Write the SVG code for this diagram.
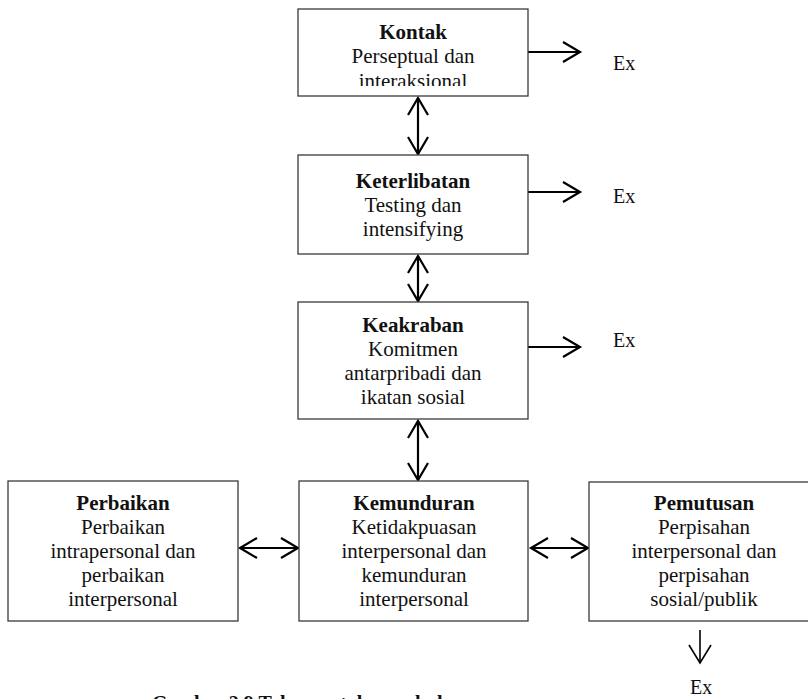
<svg xmlns="http://www.w3.org/2000/svg" width="808" height="699" viewBox="0 0 808 699">
  <style>
    .box { fill: #fff; stroke: #3a3a3a; stroke-width: 1.3; }
    .t { font-family: "Liberation Serif", "Times New Roman", Times, serif; font-size: 21px; fill: #111; text-anchor: middle; }
    .b { font-weight: bold; }
    .ex { font-family: "Liberation Serif", "Times New Roman", Times, serif; font-size: 20px; fill: #111; }
    .cap { font-family: "Liberation Serif", "Times New Roman", Times, serif; font-size: 20px; font-weight: bold; fill: #111; }
    .arr { fill: none; stroke: #000; stroke-width: 2.2; }
    .thin { fill: none; stroke: #000; stroke-width: 1.6; }
  </style>
  <defs>
    <marker id="head" markerUnits="userSpaceOnUse" orient="auto-start-reverse" refX="0" refY="0" markerWidth="22" markerHeight="24" viewBox="-20 -12 22 24" overflow="visible">
      <path d="M-17,-10 L0,0 L-17,10" fill="none" stroke="#000" stroke-width="2.2" stroke-linejoin="miter"/>
    </marker>
    <marker id="headThin" markerUnits="userSpaceOnUse" orient="auto" refX="0" refY="0" markerWidth="22" markerHeight="24" viewBox="-20 -12 22 24" overflow="visible">
      <path d="M-18,-11 L0,0 L-18,11" fill="none" stroke="#000" stroke-width="1.6"/>
    </marker>
    <clipPath id="kontakClip">
      <rect x="298" y="9" width="230" height="77"/>
    </clipPath>
  </defs>

  <rect width="808" height="699" fill="#fff"/>

  <!-- connectors -->
  <g id="connectors">
    <!-- exits to the right -->
    <line class="arr" x1="528" y1="52" x2="580" y2="52" marker-end="url(#head)"/>
    <line class="arr" x1="528" y1="192" x2="580" y2="192" marker-end="url(#head)"/>
    <line class="arr" x1="528" y1="347" x2="580" y2="347" marker-end="url(#head)"/>
    <!-- two-way links down the column -->
    <line class="arr" x1="418" y1="98" x2="418" y2="154" marker-start="url(#head)" marker-end="url(#head)"/>
    <line class="arr" x1="418" y1="256" x2="418" y2="301" marker-start="url(#head)" marker-end="url(#head)"/>
    <line class="arr" x1="418" y1="421" x2="418" y2="480" marker-start="url(#head)" marker-end="url(#head)"/>
    <!-- two-way links across the bottom row -->
    <line class="arr" x1="240" y1="548" x2="298" y2="548" marker-start="url(#head)" marker-end="url(#head)"/>
    <line class="arr" x1="531" y1="548" x2="588" y2="548" marker-start="url(#head)" marker-end="url(#head)"/>
    <!-- exit below Pemutusan -->
    <line class="thin" x1="700" y1="630" x2="700" y2="663" marker-end="url(#headThin)"/>
    <text class="ex" x="613" y="70">Ex</text>
    <text class="ex" x="613" y="203">Ex</text>
    <text class="ex" x="613" y="347">Ex</text>
    <text class="ex" x="690" y="694">Ex</text>
  </g>

  <g id="kontak">
    <rect class="box" x="298" y="9" width="230" height="87"/>
    <g clip-path="url(#kontakClip)">
      <text class="t b" x="413" y="39">Kontak</text>
      <text class="t" x="413" y="63">Perseptual dan</text>
      <text class="t" x="413" y="88">interaksional</text>
    </g>
  </g>

  <g id="keterlibatan">
    <rect class="box" x="298" y="155" width="230" height="99"/>
    <text class="t b" x="413" y="188">Keterlibatan</text>
    <text class="t" x="413" y="212">Testing dan</text>
    <text class="t" x="413" y="236">intensifying</text>
  </g>

  <g id="keakraban">
    <rect class="box" x="298" y="302" width="230" height="117"/>
    <text class="t b" x="413" y="332">Keakraban</text>
    <text class="t" x="413" y="356">Komitmen</text>
    <text class="t" x="413" y="380">antarpribadi dan</text>
    <text class="t" x="413" y="404">ikatan sosial</text>
  </g>

  <g id="perbaikan">
    <rect class="box" x="8" y="481" width="230" height="140"/>
    <text class="t b" x="123" y="510">Perbaikan</text>
    <text class="t" x="123" y="534">Perbaikan</text>
    <text class="t" x="123" y="558">intrapersonal dan</text>
    <text class="t" x="123" y="582">perbaikan</text>
    <text class="t" x="123" y="606">interpersonal</text>
  </g>

  <g id="kemunduran">
    <rect class="box" x="299" y="481" width="229" height="140"/>
    <text class="t b" x="414" y="510">Kemunduran</text>
    <text class="t" x="414" y="534">Ketidakpuasan</text>
    <text class="t" x="414" y="558">interpersonal dan</text>
    <text class="t" x="414" y="582">kemunduran</text>
    <text class="t" x="414" y="606">interpersonal</text>
  </g>

  <g id="pemutusan">
    <rect class="box" x="589" y="482" width="230" height="139"/>
    <text class="t b" x="704" y="510">Pemutusan</text>
    <text class="t" x="704" y="534">Perpisahan</text>
    <text class="t" x="704" y="558">interpersonal dan</text>
    <text class="t" x="704" y="582">perpisahan</text>
    <text class="t" x="704" y="606">sosial/publik</text>
  </g>

  <!-- caption, running off the lower edge -->
  <text class="cap" x="152" y="710">Gambar 2.9 Tahapan-tahapan hubungan</text>
</svg>
